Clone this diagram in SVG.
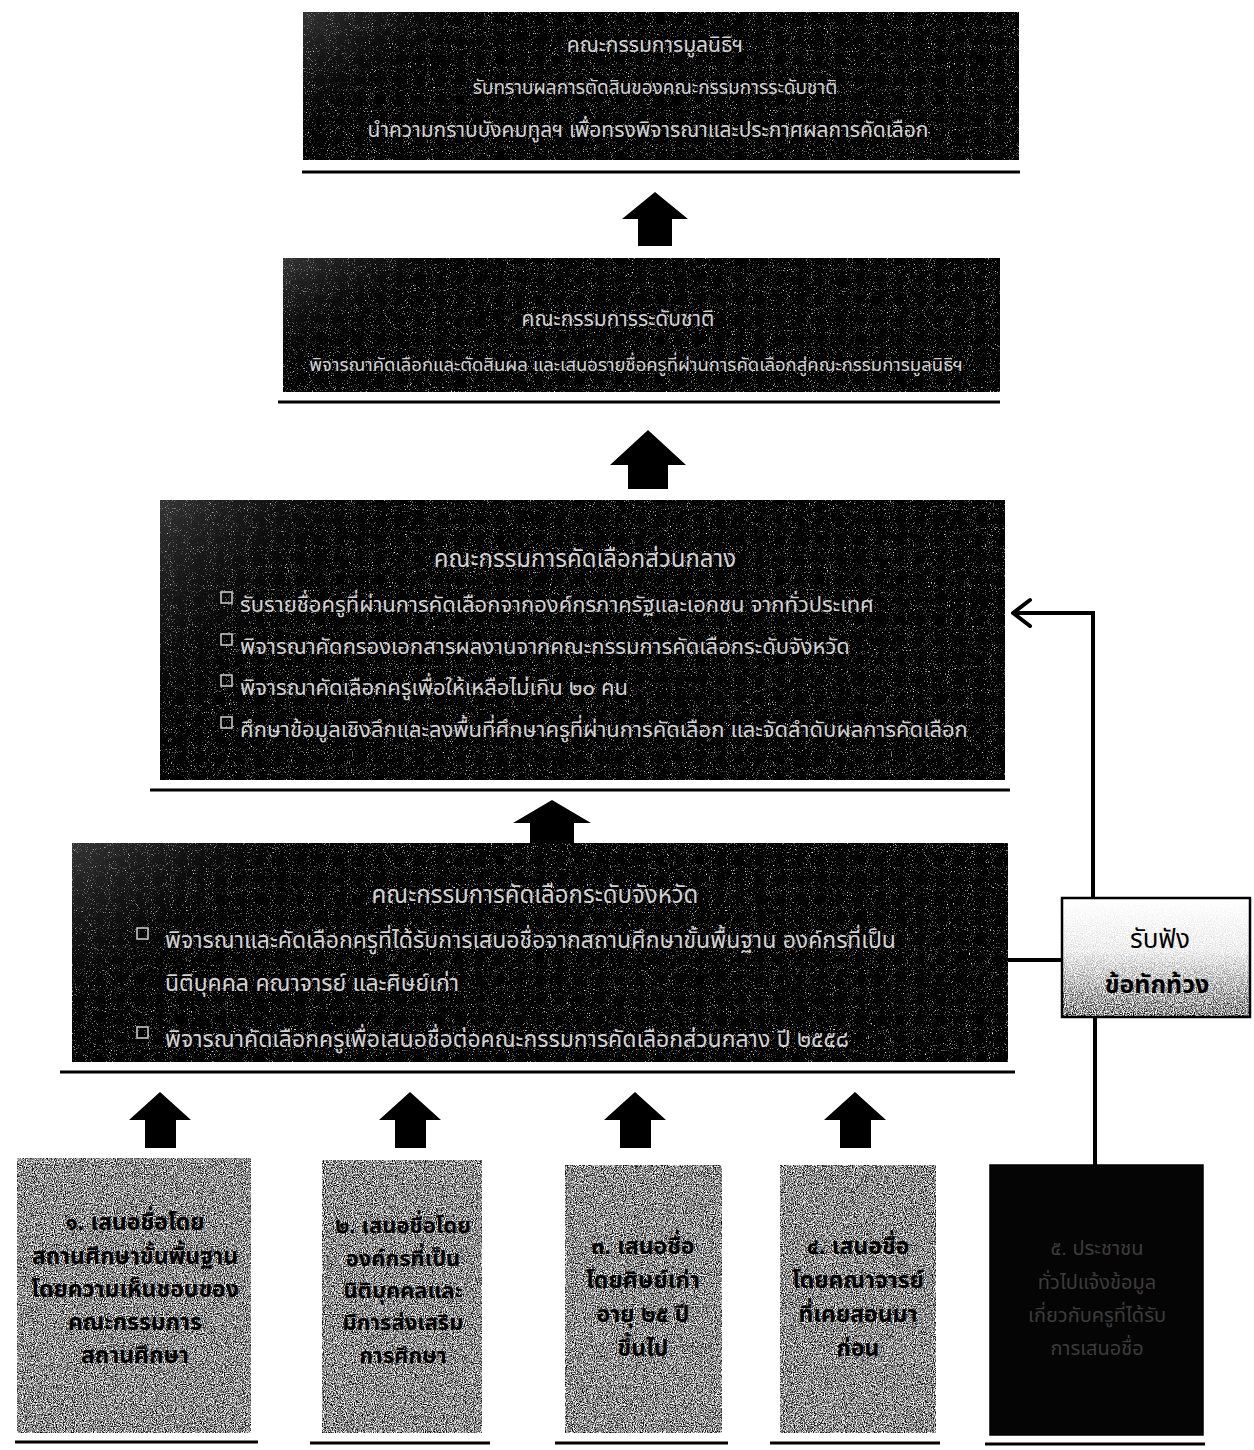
<svg xmlns="http://www.w3.org/2000/svg" width="1254" height="1450" viewBox="0 0 1254 1450">
<defs>
<filter id="grainMid" x="0" y="0" width="1" height="1" color-interpolation-filters="sRGB">
<feTurbulence type="fractalNoise" baseFrequency="0.9" numOctaves="2" seed="4" result="n"/>
<feColorMatrix in="n" type="matrix" values="2.6 0 0 0 -0.75  2.6 0 0 0 -0.75  2.6 0 0 0 -0.75  0 0 0 0 1" result="g"/>
<feComposite in="g" in2="SourceGraphic" operator="in"/>
</filter>
<filter id="grainDark" x="0" y="0" width="1" height="1" color-interpolation-filters="sRGB">
<feTurbulence type="fractalNoise" baseFrequency="0.95" numOctaves="2" seed="9" result="n"/>
<feColorMatrix in="n" type="matrix" values="4 0 0 0 -2.45  4 0 0 0 -2.45  4 0 0 0 -2.45  0 0 0 0 1" result="g"/>
<feComposite in="g" in2="SourceGraphic" operator="in"/>
</filter>
<linearGradient id="fadeWhite" x1="0" y1="0" x2="0" y2="1">
<stop offset="0" stop-color="#fff" stop-opacity="1"/>
<stop offset="0.45" stop-color="#fff" stop-opacity="0.85"/>
<stop offset="1" stop-color="#fff" stop-opacity="0"/>
</linearGradient>
<linearGradient id="darkShade" x1="0" y1="0" x2="1" y2="0.3">
<stop offset="0" stop-color="#777" stop-opacity="0.45"/>
<stop offset="0.3" stop-color="#000" stop-opacity="0"/>
</linearGradient>
</defs>
<style>
.dark{fill:#060606;}
.txtL{font-family:"Liberation Sans","Noto Sans Thai","Noto Sans",Tahoma,sans-serif;fill:#d2d2d2;}
.txtD{font-family:"Liberation Sans","Noto Sans Thai","Noto Sans",Tahoma,sans-serif;fill:#000;font-weight:bold;}
.rule{stroke:#000;stroke-width:3;}
.bul{fill:none;stroke:#cfcfcf;stroke-width:1.5;}
.arr{fill:#000;}
.conn{fill:none;stroke:#000;stroke-width:4;}
.chev{fill:none;stroke:#000;stroke-width:4;stroke-linecap:round;stroke-linejoin:round;}
</style>
<rect width="1254" height="1450" fill="#fff"/>

<g id="connectors">
<path class="arr" d="M655,192 L688,219 L672,219 L672,246 L638,246 L638,219 L622,219 Z"/>
<path class="arr" d="M648,430 L686,465 L668,465 L668,489 L628,489 L628,465 L610,465 Z"/>
<path class="arr" d="M552,800 L591,823 L574,823 L574,846 L530,846 L530,823 L513,823 Z"/>
<path class="arr" d="M160,1092 L191,1120 L176,1120 L176,1148 L145,1148 L145,1120 L129,1120 Z"/>
<path class="arr" d="M410,1092 L441,1120 L426,1120 L426,1148 L395,1148 L395,1120 L379,1120 Z"/>
<path class="arr" d="M635,1092 L666,1120 L651,1120 L651,1148 L620,1148 L620,1120 L604,1120 Z"/>
<path class="arr" d="M855,1092 L886,1120 L871,1120 L871,1148 L840,1148 L840,1120 L824,1120 Z"/>
<path class="conn" d="M1093,898 L1093,613 L1014,613"/>
<path class="chev" d="M1030,600 L1013,613 L1030,626"/>
<path class="conn" d="M1008,960 L1062,960"/>
<path class="conn" d="M1095,1017 L1095,1165"/>
</g>

<g id="node-foundation">
<rect class="dark" x="303" y="12" width="716" height="148"/>
<rect x="303" y="12" width="716" height="148" fill="#fff" filter="url(#grainDark)"/>
<rect x="303" y="12" width="716" height="148" fill="url(#darkShade)"/>
<line class="rule" x1="302" y1="172" x2="1020" y2="172"/>
<text class="txtL" x="655" y="52" font-size="21" text-anchor="middle">คณะกรรมการมูลนิธิฯ</text>
<text class="txtL" x="655" y="94" font-size="19" text-anchor="middle">รับทราบผลการตัดสินของคณะกรรมการระดับชาติ</text>
<text class="txtL" x="648" y="137" font-size="21" text-anchor="middle">นำความกราบบังคมทูลฯ เพื่อทรงพิจารณาและประกาศผลการคัดเลือก</text>
</g>

<g id="node-national">
<rect class="dark" x="283" y="258" width="717" height="134"/>
<rect x="283" y="258" width="717" height="134" fill="#fff" filter="url(#grainDark)"/>
<rect x="283" y="258" width="717" height="134" fill="url(#darkShade)"/>
<line class="rule" x1="278" y1="402" x2="1000" y2="402"/>
<text class="txtL" x="618" y="326" font-size="21" text-anchor="middle">คณะกรรมการระดับชาติ</text>
<text class="txtL" x="636" y="371" font-size="18.5" text-anchor="middle">พิจารณาคัดเลือกและตัดสินผล และเสนอรายชื่อครูที่ผ่านการคัดเลือกสู่คณะกรรมการมูลนิธิฯ</text>
</g>

<g id="node-central">
<rect class="dark" x="160" y="500" width="845" height="280"/>
<rect x="160" y="500" width="845" height="280" fill="#fff" filter="url(#grainDark)"/>
<rect x="160" y="500" width="845" height="280" fill="url(#darkShade)"/>
<line class="rule" x1="150" y1="790" x2="1010" y2="790"/>
<text class="txtL" x="585" y="567" font-size="24" text-anchor="middle">คณะกรรมการคัดเลือกส่วนกลาง</text>
<rect class="bul" x="221" y="592" width="11" height="11"/>
<rect class="bul" x="221" y="634" width="11" height="11"/>
<rect class="bul" x="221" y="675" width="11" height="11"/>
<rect class="bul" x="221" y="717" width="11" height="11"/>
<text class="txtL" x="240" y="612" font-size="22">รับรายชื่อครูที่ผ่านการคัดเลือกจากองค์กรภาครัฐและเอกชน จากทั่วประเทศ</text>
<text class="txtL" x="240" y="654" font-size="22">พิจารณาคัดกรองเอกสารผลงานจากคณะกรรมการคัดเลือกระดับจังหวัด</text>
<text class="txtL" x="240" y="695" font-size="22">พิจารณาคัดเลือกครูเพื่อให้เหลือไม่เกิน ๒๐ คน</text>
<text class="txtL" x="240" y="737" font-size="22">ศึกษาข้อมูลเชิงลึกและลงพื้นที่ศึกษาครูที่ผ่านการคัดเลือก และจัดลำดับผลการคัดเลือก</text>
</g>

<g id="node-provincial">
<rect class="dark" x="72" y="843" width="936" height="219"/>
<rect x="72" y="843" width="936" height="219" fill="#fff" filter="url(#grainDark)"/>
<rect x="72" y="843" width="936" height="219" fill="url(#darkShade)"/>
<line class="rule" x1="60" y1="1072" x2="1015" y2="1072"/>
<text class="txtL" x="535" y="903" font-size="24" text-anchor="middle">คณะกรรมการคัดเลือกระดับจังหวัด</text>
<rect class="bul" x="137" y="928" width="11" height="11"/>
<rect class="bul" x="137" y="1027" width="11" height="11"/>
<text class="txtL" x="165" y="948" font-size="23">พิจารณาและคัดเลือกครูที่ได้รับการเสนอชื่อจากสถานศึกษาขั้นพื้นฐาน องค์กรที่เป็น</text>
<text class="txtL" x="165" y="991" font-size="23">นิติบุคคล คณาจารย์ และศิษย์เก่า</text>
<text class="txtL" x="165" y="1047" font-size="23">พิจารณาคัดเลือกครูเพื่อเสนอชื่อต่อคณะกรรมการคัดเลือกส่วนกลาง ปี ๒๕๕๘</text>
</g>

<g id="node-objection">
<rect x="1062" y="898" width="188" height="119" fill="#fff"/>
<rect x="1062" y="898" width="188" height="119" fill="#fff" filter="url(#grainMid)"/>
<rect x="1062" y="898" width="188" height="119" fill="url(#fadeWhite)"/>
<rect x="1062" y="898" width="188" height="119" fill="none" stroke="#000" stroke-width="2.5"/>
<text x="1160" y="948" font-size="26" text-anchor="middle" font-family="Liberation Sans,Noto Sans Thai,sans-serif" fill="#000">รับฟัง</text>
<text class="txtD" x="1157" y="993" font-size="25" text-anchor="middle">ข้อทักท้วง</text>
</g>

<g id="node-nominate1">
<rect x="17" y="1158" width="234" height="275" fill="#fff" filter="url(#grainMid)"/>
<line class="rule" x1="15" y1="1442" x2="258" y2="1442"/>
<text class="txtD" x="135" y="1230" font-size="23" text-anchor="middle">๑. เสนอชื่อโดย</text>
<text class="txtD" x="135" y="1264" font-size="23" text-anchor="middle">สถานศึกษาขั้นพื้นฐาน</text>
<text class="txtD" x="135" y="1297" font-size="23" text-anchor="middle">โดยความเห็นชอบของ</text>
<text class="txtD" x="135" y="1330" font-size="23" text-anchor="middle">คณะกรรมการ</text>
<text class="txtD" x="135" y="1363" font-size="23" text-anchor="middle">สถานศึกษา</text>
</g>

<g id="node-nominate2">
<rect x="322" y="1160" width="160" height="273" fill="#fff" filter="url(#grainMid)"/>
<line class="rule" x1="310" y1="1443" x2="490" y2="1443"/>
<text class="txtD" x="403" y="1233" font-size="22" text-anchor="middle">๒. เสนอชื่อโดย</text>
<text class="txtD" x="403" y="1266" font-size="22" text-anchor="middle">องค์กรที่เป็น</text>
<text class="txtD" x="403" y="1298" font-size="22" text-anchor="middle">นิติบุคคลและ</text>
<text class="txtD" x="403" y="1330" font-size="22" text-anchor="middle">มีการส่งเสริม</text>
<text class="txtD" x="403" y="1363" font-size="22" text-anchor="middle">การศึกษา</text>
</g>

<g id="node-nominate3">
<rect x="565" y="1165" width="157" height="268" fill="#fff" filter="url(#grainMid)"/>
<line class="rule" x1="555" y1="1443" x2="728" y2="1443"/>
<text class="txtD" x="643" y="1254" font-size="23" text-anchor="middle">๓. เสนอชื่อ</text>
<text class="txtD" x="643" y="1288" font-size="23" text-anchor="middle">โดยศิษย์เก่า</text>
<text class="txtD" x="643" y="1322" font-size="23" text-anchor="middle">อายุ ๒๕ ปี</text>
<text class="txtD" x="643" y="1356" font-size="23" text-anchor="middle">ขึ้นไป</text>
</g>

<g id="node-nominate4">
<rect x="780" y="1165" width="156" height="268" fill="#fff" filter="url(#grainMid)"/>
<line class="rule" x1="770" y1="1443" x2="940" y2="1443"/>
<text class="txtD" x="858" y="1254" font-size="23" text-anchor="middle">๔. เสนอชื่อ</text>
<text class="txtD" x="858" y="1288" font-size="23" text-anchor="middle">โดยคณาจารย์</text>
<text class="txtD" x="858" y="1322" font-size="23" text-anchor="middle">ที่เคยสอนมา</text>
<text class="txtD" x="858" y="1356" font-size="23" text-anchor="middle">ก่อน</text>
</g>

<g id="node-nominate5">
<rect x="990" y="1165" width="213" height="270" fill="#050505" stroke="#000" stroke-width="1.5"/>
<line class="rule" x1="985" y1="1444" x2="1205" y2="1444"/>
<text x="1097" y="1255" font-size="20" text-anchor="middle" font-family="Liberation Sans,Noto Sans Thai,sans-serif" fill="#3c3c3c">๕. ประชาชน</text>
<text x="1097" y="1289" font-size="20" text-anchor="middle" font-family="Liberation Sans,Noto Sans Thai,sans-serif" fill="#3c3c3c">ทั่วไปแจ้งข้อมูล</text>
<text x="1097" y="1322" font-size="20" text-anchor="middle" font-family="Liberation Sans,Noto Sans Thai,sans-serif" fill="#3c3c3c">เกี่ยวกับครูที่ได้รับ</text>
<text x="1097" y="1355" font-size="20" text-anchor="middle" font-family="Liberation Sans,Noto Sans Thai,sans-serif" fill="#3c3c3c">การเสนอชื่อ</text>
</g>
</svg>
